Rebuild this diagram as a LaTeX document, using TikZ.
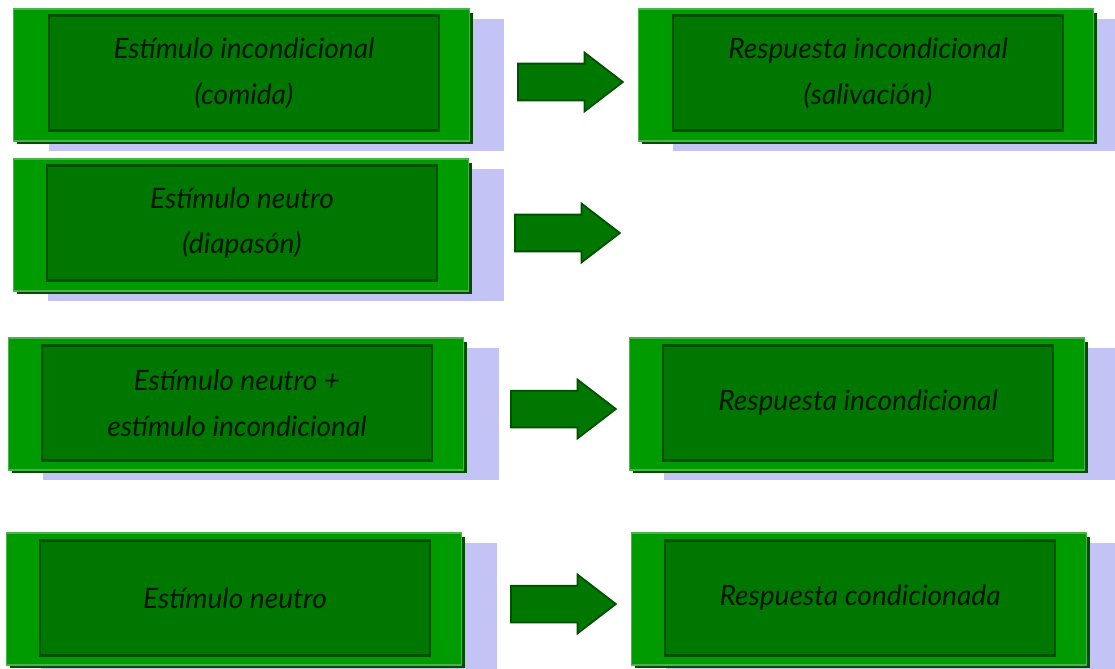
\documentclass[tikz,border=0pt]{standalone}
\usepackage{fontspec}
\setmainfont{Lato}
\usetikzlibrary{shapes.arrows,shadows}
\definecolor{boxgreen}{RGB}{0,155,0}
\definecolor{innergreen}{RGB}{0,119,0}
\definecolor{edgegreen}{RGB}{0,80,0}
\definecolor{shadowblue}{RGB}{195,195,245}
\definecolor{textgreen}{RGB}{0,22,0}
\tikzset{
    OB/.style ={rectangle, minimum width=9.12cm, minimum height=2.64cm, fill=boxgreen, draw=gray!60!green, line width=.6pt,
                drop shadow={shadow xshift=.7cm, shadow yshift=-.2cm, fill=shadowblue, opacity=1},
                drop shadow={shadow xshift=.07cm, shadow yshift=-.07cm, fill=edgegreen, opacity=1}},
    IB/.style ={rectangle, minimum width=7.8cm, minimum height=2.3cm, fill=innergreen, draw=edgegreen, line width=1.4pt,
                text=textgreen, align=center, font=\fontsize{16}{26}\selectfont\itshape},
    AR/.style ={single arrow, fill=innergreen, draw=edgegreen, line width=1pt, inner xsep=0pt, inner ysep=.35cm,
                minimum height=2.1cm, single arrow head extend=.22cm, single arrow tip angle=75, anchor=tail}
}
\begin{document}
\begin{tikzpicture}[x=.02cm,y=-.02cm]
    \useasboundingbox (0,0) rectangle (1115,669);
    % fila 1
    \node[OB] (ei) at (241.5,75) {};
    \node[IB] (ei-t) at (244,73) {Estímulo incondicional\\(comida)};
    \node[OB] (ri) at (866,75) {};
    \node[IB] (ri-t) at (868,73) {Respuesta incondicional\\(salivación)};
    % fila 2
    \node[OB] (en) at (241,225) {};
    \node[IB] (en-t) at (242,223) {Estímulo neutro\\(diapasón)};
    % fila 3
    \node[OB] (enei) at (236,404) {};
    \node[IB] (enei-t) at (237,403) {Estímulo neutro +\\estímulo incondicional};
    \node[OB] (ri2) at (857,404) {};
    \node[IB] (ri2-t) at (858,403) {Respuesta incondicional};
    % fila 4
    \node[OB] (en2) at (234,599) {};
    \node[IB] (en2-t) at (235,598) {Estímulo neutro};
    \node[OB] (rc) at (859,599) {};
    \node[IB] (rc-t) at (860,598) {Respuesta condicionada};
    % flechas
    \node[AR] (a1) at (517,82) {};
    \node[AR] (a2) at (514,233) {};
    \node[AR] (a3) at (510,409) {};
    \node[AR] (a4) at (510,604) {};
\end{tikzpicture}
\end{document}
